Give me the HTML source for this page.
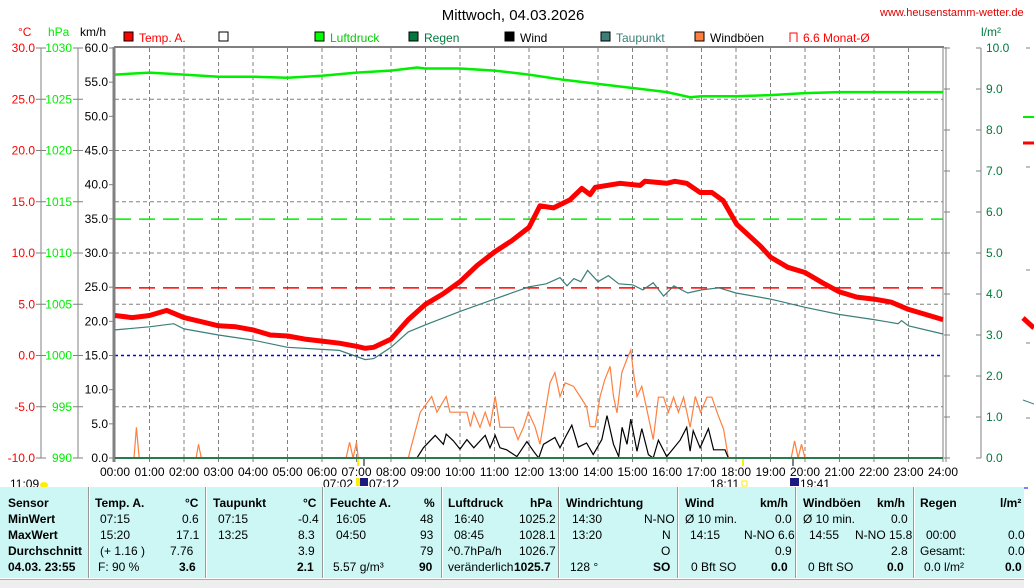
<!DOCTYPE html>
<html><head><meta charset="utf-8">
<style>
html,body{margin:0;padding:0;background:#fff;}
body{width:1034px;height:587px;overflow:hidden;position:relative;font-family:"Liberation Sans",sans-serif;}
svg{position:absolute;left:0;top:0;}
.tbl{position:absolute;left:0;top:487px;width:1024px;height:91px;background:#ccf7f5;}
.c{position:absolute;font-size:12px;color:#000;white-space:nowrap;line-height:14px;}
.b{font-weight:bold;}
.r{text-align:right;}
.sep{position:absolute;top:0;width:1px;height:91px;background:#999;border-right:1px solid #fff;}
</style></head>
<body>
<svg id="chart" width="1034" height="587" viewBox="0 0 1034 587"></svg>

<div class="tbl">
  <div class="sep" style="left:88px"></div><div class="sep" style="left:205px"></div><div class="sep" style="left:322px"></div>
  <div class="sep" style="left:441px"></div><div class="sep" style="left:558px"></div><div class="sep" style="left:677px"></div>
  <div class="sep" style="left:795px"></div><div class="sep" style="left:913px"></div>

  <div class="c b" style="left:8px;top:9px">Sensor</div>
  <div class="c b" style="left:8px;top:25px">MinWert</div>
  <div class="c b" style="left:8px;top:41px">MaxWert</div>
  <div class="c b" style="left:8px;top:57px">Durchschnitt</div>
  <div class="c b" style="left:8px;top:73px">04.03. 23:55</div>

  <div class="c b" style="left:95px;top:9px">Temp. A.</div><div class="c b" style="left:185px;top:9px">°C</div>
  <div class="c" style="left:100px;top:25px">07:15</div><div class="c" style="left:182px;top:25px">0.6</div>
  <div class="c" style="left:100px;top:41px">15:20</div><div class="c" style="left:176px;top:41px">17.1</div>
  <div class="c" style="left:100px;top:57px">(+ 1.16 )</div><div class="c" style="left:170px;top:57px">7.76</div>
  <div class="c" style="left:98px;top:73px">F: 90 %</div><div class="c b" style="left:179px;top:73px">3.6</div>

  <div class="c b" style="left:213px;top:9px">Taupunkt</div><div class="c b" style="left:303px;top:9px">°C</div>
  <div class="c" style="left:218px;top:25px">07:15</div><div class="c" style="left:298px;top:25px">-0.4</div>
  <div class="c" style="left:218px;top:41px">13:25</div><div class="c" style="left:298px;top:41px">8.3</div>
  <div class="c" style="left:298px;top:57px">3.9</div>
  <div class="c b" style="left:297px;top:73px">2.1</div>

  <div class="c b" style="left:330px;top:9px">Feuchte A.</div><div class="c b" style="left:424px;top:9px">%</div>
  <div class="c" style="left:336px;top:25px">16:05</div><div class="c" style="left:420px;top:25px">48</div>
  <div class="c" style="left:336px;top:41px">04:50</div><div class="c" style="left:420px;top:41px">93</div>
  <div class="c" style="left:420px;top:57px">79</div>
  <div class="c" style="left:333px;top:73px">5.57 g/m³</div><div class="c b" style="left:419px;top:73px">90</div>

  <div class="c b" style="left:448px;top:9px">Luftdruck</div><div class="c b" style="left:530px;top:9px">hPa</div>
  <div class="c" style="left:454px;top:25px">16:40</div><div class="c" style="left:519px;top:25px">1025.2</div>
  <div class="c" style="left:454px;top:41px">08:45</div><div class="c" style="left:519px;top:41px">1028.1</div>
  <div class="c" style="left:448px;top:57px">^0.7hPa/h</div><div class="c" style="left:519px;top:57px">1026.7</div>
  <div class="c" style="left:448px;top:73px">veränderlich</div><div class="c b" style="left:514px;top:73px">1025.7</div>

  <div class="c b" style="left:566px;top:9px">Windrichtung</div>
  <div class="c" style="left:572px;top:25px">14:30</div><div class="c" style="left:644px;top:25px">N-NO</div>
  <div class="c" style="left:572px;top:41px">13:20</div><div class="c" style="left:662px;top:41px">N</div>
  <div class="c" style="left:661px;top:57px">O</div>
  <div class="c" style="left:570px;top:73px">128 °</div><div class="c b" style="left:653px;top:73px">SO</div>

  <div class="c b" style="left:685px;top:9px">Wind</div><div class="c b" style="left:760px;top:9px">km/h</div>
  <div class="c" style="left:685px;top:25px">Ø 10 min.</div><div class="c" style="left:775px;top:25px">0.0</div>
  <div class="c" style="left:690px;top:41px">14:15</div><div class="c" style="left:744px;top:41px">N-NO 6.6</div>
  <div class="c" style="left:775px;top:57px">0.9</div>
  <div class="c" style="left:691px;top:73px">0 Bft SO</div><div class="c b" style="left:771px;top:73px">0.0</div>

  <div class="c b" style="left:803px;top:9px">Windböen</div><div class="c b" style="left:877px;top:9px">km/h</div>
  <div class="c" style="left:803px;top:25px">Ø 10 min.</div><div class="c" style="left:891px;top:25px">0.0</div>
  <div class="c" style="left:809px;top:41px">14:55</div><div class="c" style="left:855px;top:41px">N-NO 15.8</div>
  <div class="c" style="left:891px;top:57px">2.8</div>
  <div class="c" style="left:808px;top:73px">0 Bft SO</div><div class="c b" style="left:887px;top:73px">0.0</div>

  <div class="c b" style="left:920px;top:9px">Regen</div><div class="c b" style="left:1000px;top:9px">l/m²</div>
  <div class="c" style="left:926px;top:41px">00:00</div><div class="c" style="left:1008px;top:41px">0.0</div>
  <div class="c" style="left:920px;top:57px">Gesamt:</div><div class="c" style="left:1008px;top:57px">0.0</div>
  <div class="c" style="left:924px;top:73px">0.0 l/m²</div><div class="c b" style="left:1005px;top:73px">0.0</div>
</div>
<div style="position:absolute;left:0;top:579px;width:1024px;height:8px;background:#eee;border-top:1px solid #aaa"></div>

<script>
// ---- data ----
const tempTimes = [0,0.5,1,1.5,2,2.5,3,3.5,4,4.5,5,5.5,6,6.5,7,7.25,7.5,8,8.5,9,9.5,10,10.5,11,11.5,12,12.32,12.71,13.19,13.53,13.77,13.92,14.64,15.22,15.36,15.99,16.23,16.57,16.96,17.3,17.63,18.02,18.7,19,19.5,20,20.5,21,21.5,22,22.5,23,23.5,24];
const tempVals  = [3.9,3.7,3.9,4.4,3.7,3.3,2.9,2.8,2.5,2.0,1.9,1.6,1.4,1.2,0.9,0.7,0.8,1.6,3.5,5.0,6.0,7.2,8.8,10.1,11.2,12.5,14.6,14.4,15.2,16.3,15.7,16.4,16.8,16.6,17.0,16.8,17.0,16.8,15.9,15.9,15.1,12.8,10.7,9.6,8.6,8.1,7.1,6.2,5.7,5.5,5.2,4.5,4.0,3.5];
const dewTimes = [0,1,1.7,2,3,4,5,6,6.5,7,7.25,7.5,8,8.5,9,10,11,12,12.5,12.9,13.1,13.3,13.5,13.7,14,14.3,14.6,15,15.3,15.6,15.9,16.2,16.6,17,17.5,18,19,20,21,22,22.7,22.8,23,24];
const dewVals  = [2.5,2.8,3.1,2.6,2.0,1.5,0.8,0.6,0.5,-0.1,-0.4,-0.3,0.8,2.3,3.0,4.3,5.5,6.7,7.0,7.6,6.8,7.5,7.2,8.3,7.2,7.8,7.0,6.9,6.4,7.1,5.8,6.8,6.1,6.4,6.6,6.1,5.5,4.7,4.0,3.5,3.1,3.4,2.9,2.1];
const pressTimes = [0,1,2,3,4,5,6,7,8,8.75,9,10,11,12,13,14,15,16,16.67,17,18,19,20,21,22,23,24];
const pressVals  = [1027.4,1027.6,1027.4,1027.2,1027.2,1027.1,1027.3,1027.6,1027.8,1028.1,1028.0,1028.0,1027.8,1027.4,1026.9,1026.5,1026.1,1025.7,1025.2,1025.3,1025.3,1025.4,1025.6,1025.7,1025.7,1025.7,1025.7];
const gustTimes = [0,0.55,0.62,0.7,2.35,2.42,2.5,6.7,6.8,6.9,7.0,7.05,8.5,8.55,8.85,9.18,9.33,9.6,9.71,10.2,10.3,10.4,10.58,10.73,10.87,11.02,11.16,11.55,11.68,11.84,11.98,12.18,12.32,12.47,12.61,12.75,12.9,13.05,13.29,13.48,13.67,13.77,13.92,14.06,14.2,14.35,14.45,14.55,14.69,14.84,14.95,15.03,15.13,15.27,15.42,15.6,15.75,15.9,16.04,16.19,16.33,16.48,16.67,16.82,16.97,17.16,17.3,17.45,17.64,17.78,19.6,19.7,19.8,19.9,20.0,24];
const gustVals  = [0,0,4.5,0,0,2.0,0,0,2.3,0,2.3,0,0,1,6.7,9.0,6.7,9.0,6.7,6.7,4.6,6.7,4.5,6.7,4.6,9.0,4.5,4.5,2.7,4.5,6.7,4.5,2.0,6.7,11.0,12.5,9.0,11.0,10.5,9.0,7.5,4.6,4.6,9.0,11.5,13.4,9.0,6.6,12.5,14.5,15.8,12.5,9.0,10.5,7.0,2.7,8.9,8.9,6.7,8.9,6.7,8.9,4.5,9.0,6.7,8.9,8.9,6.7,4.2,0,0,2.5,0,2.0,0,0];
const windTimes = [0,8.75,8.94,9.28,9.52,9.6,9.81,10.0,10.2,10.4,10.73,10.87,11.02,11.16,11.35,11.65,11.94,12.13,12.28,12.42,12.75,12.9,13.05,13.24,13.43,13.67,13.86,14.11,14.26,14.45,14.6,14.7,14.84,14.95,15.13,15.27,15.46,15.6,15.75,15.99,16.38,16.57,16.67,16.76,16.96,17.2,17.35,17.68,17.78,24];
const windVals  = [0,0,1.5,3.3,2.0,3.5,2.5,1.3,2.7,1.5,3.3,1.5,3.3,1.5,1.2,0.2,2.4,1.0,0,2.0,3.0,1.5,3.0,4.8,1.6,2.2,0.5,2.7,6.2,2.0,0.2,4.5,2.0,5.7,1.0,4.3,0.5,0,2.6,0.2,2.6,4.5,1.0,4.0,1.5,4.3,1.2,1.2,0,0];
const rainTimes = [0,24];
const rainVals  = [0,0];
const hourLabels = ["00:00","01:00","02:00","03:00","04:00","05:00","06:00","07:00","08:00","09:00","10:00","11:00","12:00","13:00","14:00","15:00","16:00","17:00","18:00","19:00","20:00","21:00","22:00","23:00","24:00"];
const kmhTicks = ["0.0","5.0","10.0","15.0","20.0","25.0","30.0","35.0","40.0","45.0","50.0","55.0","60.0"];
const tempTicks = ["-10.0","-5.0","0.0","5.0","10.0","15.0","20.0","25.0","30.0"];
const pressTicks = ["990","995","1000","1005","1010","1015","1020","1025","1030"];
const rainTicks = ["0.0","1.0","2.0","3.0","4.0","5.0","6.0","7.0","8.0","9.0","10.0"];
const monthMean = 6.6;
const pressMean = 1013.3;

// ---- axes ----
const X0=115, X1=943, Y0=458, Y1=48;
const xH = h => X0 + (X1-X0)*h/24;
const yT = t => Y0 - (t+10)*(Y0-Y1)/40;
const yP = p => Y0 - (p-990)*(Y0-Y1)/40;
const yW = w => Y0 - w*(Y0-Y1)/60;
const yR = r => Y0 - r*(Y0-Y1)/10;

const svg=document.getElementById('chart');
const NS='http://www.w3.org/2000/svg';
function mk(tag,attrs,parent){const e=document.createElementNS(NS,tag);for(const k in attrs)e.setAttribute(k,attrs[k]);(parent||svg).appendChild(e);return e;}
function txt(s,x,y,opts){const e=mk('text',Object.assign({x:x,y:y,'font-family':'Liberation Sans, sans-serif','font-size':12},opts||{}));e.textContent=s;return e;}

// title & url
let e=txt('Mittwoch, 04.03.2026',513,20,{'font-size':15,'text-anchor':'middle',fill:'#000'});


e=txt('www.heusenstamm-wetter.de',880,16,{'font-size':11,fill:'#e00000'});



// unit labels
txt('°C',18,36,{fill:'#ff0000'});
txt('hPa',48,36,{fill:'#00ee00'});
txt('km/h',80,36,{fill:'#000'});
txt('l/m²',981,36,{fill:'#007a3c'});

// legend
const legendItems=[[124,'#ff0000','Temp. A.','#ff0000'],[219,'#ffffff','',''],[315,'#00ff00','Luftdruck','#00cc00'],[409,'#007a3c','Regen','#007a3c'],[505,'#000000','Wind','#000'],[601,'#3a7f78','Taupunkt','#3a7f78'],[695,'#ff7f3f','Windböen','#000']];
legendItems.forEach(it=>{
  const g=mk('g',{});
  
  
  mk('rect',{x:it[0],y:32,width:9,height:9,fill:it[1],stroke:'#000','stroke-width':1},g);
  if(it[2]) txt(it[2],it[0]+15,42,{fill:it[3]}).remove||0;
  if(it[2]){const t=g.appendChild(svg.lastChild);}
});
{const g=mk('g',{});


mk('path',{d:'M790 42 V33 H797 V42',fill:'none',stroke:'#ff0000','stroke-width':1},g);
const t=txt('6.6 Monat-Ø',803,42,{fill:'#ff0000'});g.appendChild(t);}

// grid
for(let h=1;h<24;h++){mk('line',{x1:xH(h),y1:Y1,x2:xH(h),y2:Y0,stroke:'#808080','stroke-dasharray':'4,3','stroke-width':1});}
for(let t=-5;t<30;t+=5){if(t===0)continue;mk('line',{x1:X0,y1:yT(t),x2:X1,y2:yT(t),stroke:'#808080','stroke-dasharray':'4,3','stroke-width':1});}
e=mk('line',{x1:X0,y1:yT(0),x2:X1,y2:yT(0),stroke:'#0000ff','stroke-dasharray':'3,3','stroke-width':1.5});


e=mk('line',{x1:X0,y1:yT(monthMean),x2:X1,y2:yT(monthMean),stroke:'#ff0000','stroke-dasharray':'16,8','stroke-width':1.5});


e=mk('line',{x1:X0,y1:yP(pressMean),x2:X1,y2:yP(pressMean),stroke:'#00ee00','stroke-dasharray':'16,8','stroke-width':1.5});



// plot border
mk('line',{x1:X0-1,y1:Y1-1,x2:X0-1,y2:Y0+4,stroke:'#808080','stroke-width':3});
mk('line',{x1:X0-1,y1:Y1-1,x2:X1+1,y2:Y1-1,stroke:'#808080','stroke-width':2});
mk('line',{x1:X1,y1:Y1-1,x2:X1,y2:Y0+4,stroke:'#808080','stroke-width':1});
mk('line',{x1:X1+3,y1:Y1-1,x2:X1+3,y2:Y0+4,stroke:'#808080','stroke-width':1});

// left axes
mk('line',{x1:41,y1:Y1,x2:41,y2:Y0,stroke:'#808080'});
mk('line',{x1:78,y1:Y1,x2:78,y2:Y0,stroke:'#808080'});
tempTicks.forEach((s,i)=>{const y=yT(-10+5*i);mk('line',{x1:36,y1:y,x2:46,y2:y,stroke:'#808080'});txt(s,35,y+4,{'text-anchor':'end',fill:'#ff0000'});});
pressTicks.forEach((s,i)=>{const y=yP(990+5*i);mk('line',{x1:73,y1:y,x2:83,y2:y,stroke:'#808080'});txt(s,72,y+4,{'text-anchor':'end',fill:'#00ee00'});});
kmhTicks.forEach((s,i)=>{const y=yW(5*i);mk('line',{x1:109,y1:y,x2:114,y2:y,stroke:'#808080'});txt(s,108,y+4,{'text-anchor':'end',fill:'#000'});});
// right axis
mk('line',{x1:981,y1:Y1,x2:981,y2:Y0,stroke:'#808080'});
rainTicks.forEach((s,i)=>{const y=yR(i);mk('line',{x1:976,y1:y,x2:981,y2:y,stroke:'#808080'});mk('line',{x1:944,y1:y,x2:950,y2:y,stroke:'#808080'});txt(s,986,y+4,{fill:'#007a3c'});});
// right side small panel
[48,167,270,343,418].forEach(y=>mk('line',{x1:1026,y1:y,x2:1030,y2:y,stroke:'#808080'}));
mk('line',{x1:1023,y1:117,x2:1034,y2:117,stroke:'#00ee00','stroke-width':2});
mk('line',{x1:1023,y1:143,x2:1034,y2:143,stroke:'#ff0000','stroke-width':3});
mk('path',{d:'M1023 318 L1034 328',stroke:'#ff0000','stroke-width':5,fill:'none'});
mk('path',{d:'M1023 400 L1034 404',stroke:'#3a7f78','stroke-width':1,fill:'none'});
mk('line',{x1:1023,y1:488,x2:1028,y2:488,stroke:'#0000ff'});

// x labels
hourLabels.forEach((s,i)=>{mk('line',{x1:xH(i),y1:Y0,x2:xH(i),y2:Y0+4,stroke:'#808080'});txt(s,xH(i),476,{'text-anchor':'middle',fill:'#000'});});

// sun / moon annotations
txt('11:09',10,488,{fill:'#000'});
mk('ellipse',{cx:44,cy:485,rx:4,ry:3,fill:'#ffee00'});
txt('07:02',323,488,{fill:'#000'});
mk('rect',{x:356,y:478,width:5,height:8,fill:'#ffee00'});
mk('rect',{x:360,y:478,width:8,height:8,fill:'#1a1a80'});
txt('07:12',369,488,{fill:'#000'});
mk('line',{x1:358,y1:458,x2:358,y2:466,stroke:'#ffee00','stroke-width':2});
mk('line',{x1:364,y1:458,x2:364,y2:466,stroke:'#808080','stroke-width':2});
txt('18:11',710,488,{fill:'#000'});
mk('rect',{x:742,y:481,width:5,height:5,fill:'none',stroke:'#ffee00'});
mk('line',{x1:743,y1:458,x2:743,y2:466,stroke:'#ffee00','stroke-width':2});
mk('line',{x1:793,y1:458,x2:793,y2:466,stroke:'#808080','stroke-width':2});
mk('rect',{x:790,y:478,width:9,height:8,fill:'#1a1a80'});
txt('19:41',800,488,{fill:'#000'});

// series
function series(times,vals,yf,attrs,name){
  const pts=times.map((t,i)=>xH(t).toFixed(1)+','+yf(vals[i]).toFixed(1)).join(' ');
  const p=mk('polyline',Object.assign({points:pts,fill:'none'},attrs));
  
  
  return p;
}
series(gustTimes,gustVals,yW,{stroke:'#ff7f3f','stroke-width':1.2},'gust-line');
series(windTimes,windVals,yW,{stroke:'#000','stroke-width':1.2},'wind-line');
series(rainTimes,rainVals,yR,{stroke:'#2a7a50','stroke-width':2},'rain-line');
series(pressTimes,pressVals,yP,{stroke:'#00ee00','stroke-width':2.5},'pressure-line');
series(dewTimes,dewVals,yT,{stroke:'#3a7f78','stroke-width':1.2},'dewpoint-line');
series(tempTimes,tempVals,yT,{stroke:'#ff0000','stroke-width':5,'stroke-linejoin':'round'},'temperature-line');
</script>
</body></html>
